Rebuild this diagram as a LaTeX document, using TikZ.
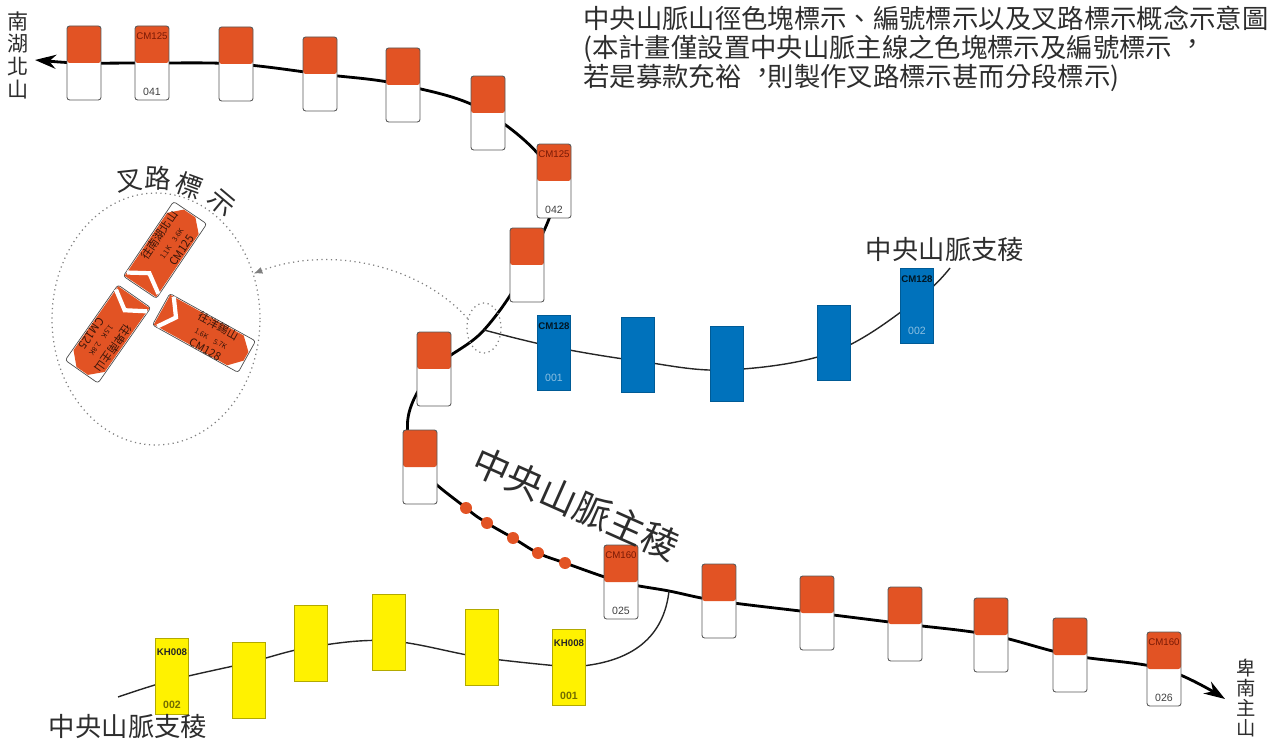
\documentclass[tikz,border=0pt]{standalone}
\usepackage{fontspec}
\setmainfont{Liberation Sans}
\newfontfamily\cjk[Script=CJK,Language=Chinese Traditional]{Noto Sans CJK TC}
\usetikzlibrary{arrows.meta,shapes.geometric}

\definecolor{cmorange}{RGB}{226,83,36}
\definecolor{cmblue}{RGB}{0,114,188}
\definecolor{khyellow}{RGB}{255,242,0}
\definecolor{inkgray}{RGB}{45,45,45}
\definecolor{cmdark}{RGB}{120,25,5}

\pgfdeclarelayer{back}
\pgfsetlayers{back,main}

% centred full-width comma, as in the title
\newcommand{\tccomma}{\makebox[1em][l]{\hspace{0.3em}\raisebox{0.18em}{，}}}

\tikzset{
  ridgemark/.style={draw=gray!70!black, line width=0.5pt, rounded corners=1.5pt, fill=white,
    minimum width=0.68cm, minimum height=1.48cm, inner sep=0pt,
    path picture={\fill[cmorange] (path picture bounding box.north west) rectangle (path picture bounding box.east);}},
  bluemark/.style={fill=cmblue, draw=cmblue!80!black, line width=0.3pt, minimum width=0.66cm, minimum height=1.5cm, inner sep=0pt},
  yellowmark/.style={fill=khyellow, draw=khyellow!70!black, line width=0.3pt, minimum width=0.66cm, minimum height=1.52cm, inner sep=0pt},
  ridgedot/.style={circle, fill=cmorange, minimum size=0.24cm, inner sep=0pt},
  marktop/.style={font=\fontsize{5.5}{6}\selectfont, text=cmdark, anchor=north, inner sep=0pt, yshift=-4pt},
  markbot/.style={font=\fontsize{6}{7}\selectfont, text=black!75, anchor=south, inner sep=0pt, yshift=2.5pt},
  bluetop/.style={font=\bfseries\fontsize{5.5}{6}\selectfont, text=black!80!cmblue, anchor=north, inner sep=0pt, yshift=-4pt},
  bluebot/.style={font=\fontsize{6}{7}\selectfont, text=cmblue!45!white, anchor=south, inner sep=0pt, yshift=5pt},
  yellowtop/.style={font=\bfseries\fontsize{5.5}{6}\selectfont, text=black!85, anchor=north, inner sep=0pt, yshift=-6pt},
  yellowbot/.style={font=\bfseries\fontsize{6}{7}\selectfont, text=khyellow!45!black, anchor=south, inner sep=0pt, yshift=3pt},
  ridgeline/.style={line width=1.6pt, {Stealth[length=12pt,width=8pt]}-{Stealth[length=12pt,width=8pt]}},
  spurline/.style={line width=0.8pt, black!85},
  cjktext/.style={font=\cjk\fontsize{15}{16.5}\selectfont, text=inkgray, inner sep=0pt},
  endtext/.style={font=\cjk\fontsize{12}{12.9}\selectfont, text=inkgray, align=center, inner sep=0pt},
  insetring/.style={ellipse, draw=gray, dotted, line width=0.7pt, minimum width=4.16cm, minimum height=5.04cm},
  zoomring/.style={ellipse, draw=gray, dotted, line width=0.7pt, minimum width=0.68cm, minimum height=1cm},
  pointer/.style={draw=gray, dotted, line width=0.7pt, -{Latex[length=5pt,width=4pt]}},
  signrim/.style={draw=gray!60!black, line width=0.4pt, rounded corners=1.5pt},
  signarrow/.style={draw=white, line width=2.4pt},
  signtext/.style={transform shape, font=\cjk\fontsize{6.3}{7.6}\selectfont, text=black!75!cmorange, align=center, inner sep=0pt}
}

% fork sign of the inset: centre, angle, half length, half width, name, text
\newcommand{\forksign}[6]{%
  \begin{scope}[shift={#1}, rotate=#2]
    \draw[signrim] (-#3,-#4) rectangle (#3,#4);
    \fill[cmorange] (-#3+1,-#4+1) -- (#3-13,-#4+1) -- (#3-1,-#4+13) -- (#3-1,#4-13) -- (#3-13,#4-1) -- (-#3+1,#4-1) -- cycle;
    \draw[signarrow] (-#3+5,#4-1) -- (-#3+17,0) -- (-#3+5,-#4+1);
    \node[signtext] (#5) at (9,0) {#6};
  \end{scope}}

\begin{document}
\begin{tikzpicture}[x={(0.02cm,0)}, y={(0,-0.02cm)}]
\useasboundingbox (0,0) rectangle (1283,742);

% title
\node[cjktext, align=left, anchor=north west] (title) at (583,6)
  {中央山脈山徑色塊標示、編號標示以及叉路標示概念示意圖\\(本計畫僅設置中央山脈主線之色塊標示及編號標示\tccomma\\若是募款充裕\tccomma 則製作叉路標示甚而分段標示)};

% ends of the ridge
\node[endtext] (nhbs) at (18,55) {南\\湖\\北\\山};
\node[endtext, font=\cjk\fontsize{11}{11.3}\selectfont] (bnzs) at (1246,698) {卑\\南\\主\\山};
\coordinate (nhb) at (35,60);
\coordinate (bnz) at (1225,699);
\coordinate (jb) at (484,330);
\coordinate (jy) at (669,591);
\coordinate (kink) at (408,418);
\coordinate (bl) at (950,268);
\coordinate (yl) at (118,697);

% main ridge marks
\foreach \n/\x/\y in {1/84/63,2/152/63,3/236/64,4/320/74,5/403/85,6/488/113,7/554/181,8/527/265,9/434/369,
  10/420/467,11/621/582,12/719/601,13/817/613,14/905/624,15/991/635,16/1070/655,17/1164/669}
  \node[ridgemark] (m\n) at (\x,\y) {};
\node[marktop] (m2t) at (m2.north) {CM125};
\node[markbot] (m2b) at (m2.south) {041};
\node[marktop] (m7t) at (m7.north) {CM125};
\node[markbot] (m7b) at (m7.south) {042};
\node[marktop] (m11t) at (m11.north) {CM160};
\node[markbot] (m11b) at (m11.south) {025};
\node[marktop] (m17t) at (m17.north) {CM160};
\node[markbot] (m17b) at (m17.south) {026};

\foreach \n/\x/\y in {1/466/508,2/487/523,3/513/538,4/538/553,5/565/563}
  \node[ridgedot] (d\n) at (\x,\y) {};

% spur to the east
\foreach \n/\x/\y in {1/554/353,2/638/355,3/727/364,4/834/343,5/917/306}
  \node[bluemark] (b\n) at (\x,\y) {};
\node[bluetop] (b1t) at (b1.north) {CM128};
\node[bluebot] (b1b) at (b1.south) {001};
\node[bluetop] (b5t) at (b5.north) {CM128};
\node[bluebot] (b5b) at (b5.south) {002};
\node[cjktext] (bspur) at (945,250) {中央山脈支稜};

% spur to the west
\foreach \n/\x/\y in {1/172/676,2/249/680,3/311/643,4/389/632,5/482/647,6/569/667}
  \node[yellowmark] (y\n) at (\x,\y) {};
\node[yellowtop] (y1t) at (y1.north) {KH008};
\node[yellowbot] (y1b) at (y1.south) {002};
\node[yellowtop] (y6t) at (y6.north) {KH008};
\node[yellowbot] (y6b) at (y6.south) {001};
\node[cjktext] (yspur) at (128,727) {中央山脈支稜};

\node[cjktext, font=\cjk\fontsize{21}{24}\selectfont, rotate=-24] (ridge) at (576,504) {中央山脈主稜};

\begin{pgfonlayer}{back}
  \draw[ridgeline] plot[smooth, tension=0.6] coordinates {(nhb) (m1) (m2) (m3) (m4) (m5) (m6) (m7) (m8) (jb) (m9) (kink) (m10)
    (d1) (d2) (d3) (d4) (d5) (m11) (jy) (m12) (m13) (m14) (m15) (m16) (m17) (bnz)};
  \draw[spurline] plot[smooth, tension=0.6] coordinates {(jb) ([yshift=3.4pt]b1.center) ([yshift=-3.4pt]b2.center)
    ([yshift=-3.4pt]b3.center) ([yshift=-5pt]b4.center) ([yshift=3.4pt]b5.center) (bl)};
  \draw[spurline] plot[smooth, tension=0.6] coordinates {(yl) ([yshift=-2.3pt]y1.center) ([yshift=10pt]y2.center)
    ([yshift=-2.3pt]y3.center) ([yshift=-5pt]y4.center) ([yshift=-6pt]y5.center) (y6.center)}
    .. controls (635,664) and (664,635) .. (jy);
\end{pgfonlayer}

% inset of the fork signs
\node[zoomring] (ring) at (484,328) {};
\node[insetring] (inset) at (156,319) {};
\draw[pointer] (ring.150) .. controls (420,265) and (330,245) .. (inset.25);
\node[cjktext, rotate=6] (fk1) at (130,181) {叉};
\node[cjktext, rotate=-3] (fk2) at (158,178) {路};
\node[cjktext, rotate=-20] (fk3) at (189,186) {標};
\node[cjktext, rotate=-40] (fk4) at (221,203) {示};
\forksign{(165,250)}{56}{45}{20}{snorth}{往南湖北山\\{\fontsize{4}{4.5}\selectfont 1.1K\quad 3.6K}\\CM125}
\forksign{(108,334)}{235}{46}{20}{ssouth}{往卑南主山\\{\fontsize{4}{4.5}\selectfont 1.5K\quad 2.8K}\\CM125}
\forksign{(204,333)}{-29}{49}{18}{seast}{往洋錫山\\{\fontsize{4}{4.5}\selectfont 1.6K\quad 5.7K}\\CM128}
\end{tikzpicture}
\end{document}
